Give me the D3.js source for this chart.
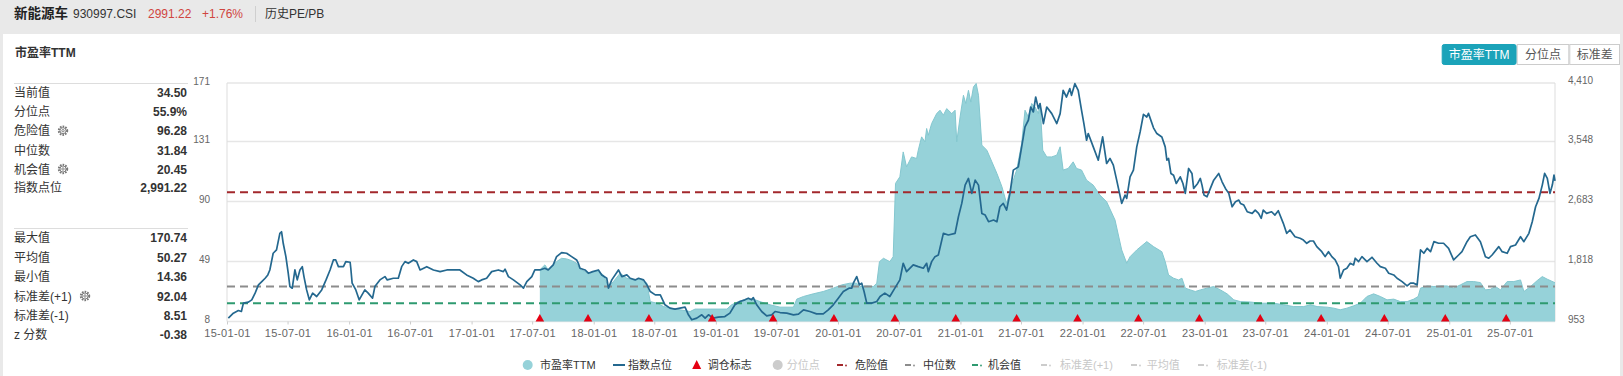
<!DOCTYPE html>
<html><head><meta charset="utf-8">
<script src="https://cdn.jsdelivr.net/npm/d3@7/dist/d3.min.js"></script>
<style>
body{margin:0;background:#e9e9e9;}
svg{display:block;font-family:"Liberation Sans","Noto Sans CJK SC",sans-serif;}
</style></head><body>
<svg id="c" width="1623" height="376"></svg>
<script>
// ---------------- DATA ----------------
const titleName = "新能源车";
const titleCode = "930997.CSI";
const titlePrice = "2991.22";
const titleChange = "+1.76%";
const titleTab = "历史PE/PB";
const sectionTitle = "市盈率TTM";
const buttonLabels = ["市盈率TTM", "分位点", "标准差"];

const statLabels1 = ["当前值", "分位点", "危险值", "中位数", "机会值", "指数点位"];
const statValues1 = ["34.50", "55.9%", "96.28", "31.84", "20.45", "2,991.22"];
const statLabels2 = ["最大值", "平均值", "最小值", "标准差(+1)", "标准差(-1)", "z 分数"];
const statValues2 = ["170.74", "50.27", "14.36", "92.04", "8.51", "-0.38"];

const refDanger = 96.28;
const refMedian = 31.84;
const refChance = 20.45;

const peTickLabels = [8, 49, 90, 131, 171];
const idxTickLabels = [953, 1818, 2683, 3548, 4410];
const xTickLabels = ["15-01-01","15-07-01","16-01-01","16-07-01","17-01-01","17-07-01","18-01-01","18-07-01","19-01-01","19-07-01","20-01-01","20-07-01","21-01-01","21-07-01","22-01-01","22-07-01","23-01-01","23-07-01","24-01-01","24-07-01","25-01-01","25-07-01"];
const xDomain = ["2015-01-01", "2025-11-13"];

const legendNames = ["市盈率TTM","指数点位","调仓标志","分位点","危险值","中位数","机会值","标准差(+1)","平均值","标准差(-1)"];

const rebalanceDates = ["2017-07-24","2017-12-15","2018-06-15","2018-12-21","2019-06-21","2019-12-20","2020-06-19","2020-12-18","2021-06-18","2021-12-17","2022-06-17","2022-12-16","2023-06-16","2023-12-15","2024-06-21","2024-12-20","2025-06-20"];

const indexSeries = [["2015-01-05",1002],["2015-01-20",1074],["2015-02-04",1112],["2015-02-13",1098],["2015-02-19",1219],["2015-03-06",1234],["2015-03-16",1267],["2015-03-26",1364],["2015-04-05",1484],["2015-04-15",1531],["2015-04-25",1580],["2015-05-03",1628],["2015-05-09",1700],["2015-05-19",1942],["2015-05-29",1990],["2015-06-08",2231],["2015-06-13",2254],["2015-06-18",2087],["2015-06-26",1893],["2015-07-03",1653],["2015-07-08",1459],["2015-07-15",1436],["2015-07-23",1700],["2015-07-30",1556],["2015-08-07",1700],["2015-08-14",1748],["2015-08-19",1604],["2015-08-27",1411],["2015-09-04",1267],["2015-09-14",1364],["2015-09-26",1315],["2015-10-11",1411],["2015-10-24",1556],["2015-11-05",1700],["2015-11-15",1845],["2015-11-22",1845],["2015-11-30",1748],["2015-12-15",1748],["2015-12-22",1821],["2016-01-04",1812],["2016-01-06",1725],["2016-01-10",1508],["2016-01-21",1411],["2016-01-31",1267],["2016-02-17",1411],["2016-02-27",1364],["2016-03-11",1291],["2016-03-18",1459],["2016-04-02",1556],["2016-04-17",1604],["2016-04-24",1556],["2016-05-12",1580],["2016-05-27",1580],["2016-06-06",1748],["2016-06-16",1821],["2016-06-26",1797],["2016-07-11",1845],["2016-07-21",1821],["2016-07-31",1700],["2016-08-20",1748],["2016-09-09",1700],["2016-09-29",1676],["2016-10-19",1700],["2016-11-27",1700],["2016-12-17",1628],["2017-01-06",1580],["2017-01-21",1531],["2017-01-31",1556],["2017-02-15",1580],["2017-03-02",1676],["2017-03-22",1700],["2017-04-06",1676],["2017-04-11",1711],["2017-04-21",1604],["2017-05-06",1556],["2017-05-26",1484],["2017-06-05",1436],["2017-06-15",1531],["2017-06-30",1604],["2017-07-09",1700],["2017-07-24",1700],["2017-08-08",1725],["2017-08-18",1700],["2017-09-02",1773],["2017-09-12",1893],["2017-09-27",1951],["2017-10-12",1942],["2017-10-27",1893],["2017-11-11",1845],["2017-11-16",1797],["2017-11-21",1725],["2017-12-06",1700],["2017-12-16",1653],["2017-12-29",1676],["2018-01-15",1700],["2018-01-25",1628],["2018-02-09",1580],["2018-02-14",1436],["2018-02-24",1556],["2018-03-16",1700],["2018-03-26",1604],["2018-04-10",1628],["2018-04-20",1580],["2018-05-05",1556],["2018-05-15",1580],["2018-05-30",1556],["2018-06-09",1484],["2018-06-19",1387],["2018-07-04",1339],["2018-07-19",1339],["2018-08-02",1195],["2018-08-17",1147],["2018-09-01",1132],["2018-09-16",1147],["2018-10-01",1161],["2018-10-11",1050],["2018-10-21",978],["2018-11-05",1002],["2018-11-20",1050],["2018-11-30",1002],["2018-12-10",1050],["2018-12-24",1002],["2019-01-08",1017],["2019-01-28",1025],["2019-02-12",1074],["2019-02-27",1195],["2019-03-14",1242],["2019-03-29",1267],["2019-04-08",1291],["2019-04-18",1267],["2019-04-23",1300],["2019-05-03",1195],["2019-05-18",1098],["2019-06-02",1035],["2019-06-17",1050],["2019-06-27",1098],["2019-07-12",1083],["2019-08-01",1074],["2019-08-21",1050],["2019-09-05",1060],["2019-09-20",1122],["2019-10-09",1098],["2019-10-29",1064],["2019-11-18",1064],["2019-12-03",1122],["2019-12-18",1195],["2020-01-02",1291],["2020-01-17",1387],["2020-02-03",1436],["2020-02-11",1436],["2020-02-16",1508],["2020-02-26",1604],["2020-03-05",1484],["2020-03-12",1508],["2020-03-19",1387],["2020-03-27",1219],["2020-04-11",1219],["2020-04-26",1242],["2020-05-06",1315],["2020-05-20",1364],["2020-06-04",1315],["2020-06-19",1436],["2020-07-04",1556],["2020-07-14",1797],["2020-07-24",1676],["2020-08-13",1773],["2020-08-28",1748],["2020-09-12",1725],["2020-09-22",1797],["2020-09-27",1676],["2020-10-07",1821],["2020-10-17",1893],["2020-10-27",1917],["2020-11-11",2231],["2020-11-26",2207],["2020-12-16",2231],["2020-12-26",2471],["2021-01-05",2665],["2021-01-15",2930],["2021-01-25",3027],["2021-02-04",2810],["2021-02-14",3002],["2021-02-24",2930],["2021-03-06",2520],["2021-03-16",2496],["2021-03-26",2399],["2021-04-10",2424],["2021-04-20",2399],["2021-04-29",2616],["2021-05-09",2665],["2021-05-19",2568],["2021-05-29",2810],["2021-06-08",3147],["2021-06-23",3194],["2021-07-03",3484],["2021-07-13",3773],["2021-07-23",3870],["2021-07-30",4062],["2021-08-07",3990],["2021-08-14",4207],["2021-08-22",4039],["2021-08-27",4111],["2021-09-06",3822],["2021-09-16",4062],["2021-10-01",3966],["2021-10-16",3822],["2021-10-26",3966],["2021-11-04",4303],["2021-11-14",4207],["2021-11-24",4328],["2021-11-29",4231],["2021-12-09",4400],["2021-12-19",4303],["2021-12-29",4014],["2022-01-05",3822],["2022-01-13",3580],["2022-01-18",3677],["2022-02-02",3484],["2022-02-17",3291],["2022-03-02",3628],["2022-03-14",3243],["2022-03-24",3316],["2022-04-03",3219],["2022-04-13",3002],["2022-04-28",2665],["2022-05-08",2785],["2022-05-13",2737],["2022-05-23",3050],["2022-06-02",3147],["2022-06-12",3484],["2022-06-22",3700],["2022-07-02",3955],["2022-07-12",3917],["2022-07-17",3970],["2022-08-01",3760],["2022-08-11",3677],["2022-08-26",3628],["2022-09-05",3484],["2022-09-10",3291],["2022-09-15",3316],["2022-09-22",3099],["2022-09-30",3074],["2022-10-08",2954],["2022-10-20",3050],["2022-10-28",2954],["2022-11-04",2810],["2022-11-14",3171],["2022-11-24",3099],["2022-11-29",2882],["2022-12-11",2954],["2022-12-19",3027],["2022-12-24",2930],["2022-12-30",2785],["2023-01-08",2761],["2023-01-18",2882],["2023-01-28",3002],["2023-02-12",3099],["2023-02-22",2978],["2023-03-04",2882],["2023-03-14",2810],["2023-03-24",2616],["2023-04-03",2688],["2023-04-13",2713],["2023-04-18",2665],["2023-04-28",2641],["2023-05-08",2544],["2023-05-23",2520],["2023-06-01",2568],["2023-06-11",2520],["2023-06-19",2448],["2023-06-25",2568],["2023-07-05",2520],["2023-07-20",2544],["2023-07-30",2496],["2023-08-09",2558],["2023-08-24",2376],["2023-09-03",2231],["2023-09-13",2279],["2023-09-28",2182],["2023-10-13",2159],["2023-10-23",2134],["2023-11-02",2087],["2023-11-12",2120],["2023-11-22",2120],["2023-12-02",2038],["2023-12-17",1965],["2023-12-27",1893],["2024-01-06",1965],["2024-01-16",1893],["2024-01-26",1845],["2024-02-05",1748],["2024-02-10",1580],["2024-02-20",1700],["2024-03-01",1725],["2024-03-11",1797],["2024-03-21",1773],["2024-03-26",1870],["2024-04-05",1821],["2024-04-15",1893],["2024-04-30",1821],["2024-05-15",1884],["2024-05-30",1797],["2024-06-09",1748],["2024-06-24",1725],["2024-07-04",1653],["2024-07-19",1628],["2024-07-29",1580],["2024-08-13",1531],["2024-08-28",1469],["2024-09-07",1508],["2024-09-17",1508],["2024-09-27",1484],["2024-10-07",1990],["2024-10-17",1942],["2024-10-27",2014],["2024-11-06",1965],["2024-11-16",2110],["2024-11-30",2087],["2024-12-15",2087],["2024-12-30",2014],["2025-01-14",1845],["2025-01-29",1917],["2025-02-08",1965],["2025-02-23",2110],["2025-03-05",2182],["2025-03-20",2207],["2025-04-04",2110],["2025-04-19",1893],["2025-04-29",1870],["2025-05-09",1917],["2025-05-29",2038],["2025-06-08",1965],["2025-06-23",1942],["2025-07-03",2038],["2025-07-18",2062],["2025-08-02",2182],["2025-08-12",2110],["2025-08-27",2231],["2025-09-06",2399],["2025-09-16",2616],["2025-09-26",2737],["2025-10-06",2930],["2025-10-13",3099],["2025-10-21",3027],["2025-10-29",2810],["2025-11-05",2930],["2025-11-10",3074],["2025-11-13",2991]];

const peSeries = [["2017-07-24",43.3],["2017-08-08",46.7],["2017-08-18",43.3],["2017-09-02",46.7],["2017-09-12",48.9],["2017-09-27",51.2],["2017-10-12",50.8],["2017-10-27",49.6],["2017-11-11",47.8],["2017-11-21",43.7],["2017-12-06",42.1],["2017-12-16",40.5],["2017-12-29",42.1],["2018-01-15",42.1],["2018-01-30",39.8],["2018-02-14",31.5],["2018-03-01",35.3],["2018-03-21",41.0],["2018-04-10",37.6],["2018-04-30",36.4],["2018-05-20",36.9],["2018-06-09",34.2],["2018-06-19",21.6],["2018-07-09",20.5],["2018-07-29",18.2],["2018-08-18",17.1],["2018-09-16",16.0],["2018-10-16",14.8],["2018-10-31",16.5],["2018-12-15",16.5],["2019-02-03",16.5],["2019-02-17",19.4],["2019-03-09",21.6],["2019-04-03",23.3],["2019-04-23",23.3],["2019-05-13",21.6],["2019-06-12",19.4],["2019-07-12",17.8],["2019-08-21",17.8],["2019-08-31",23.3],["2019-09-20",25.1],["2019-10-19",26.9],["2019-11-18",28.5],["2019-12-18",30.8],["2020-01-12",33.0],["2020-02-06",34.2],["2020-02-26",34.2],["2020-03-07",31.9],["2020-03-27",32.3],["2020-04-16",31.9],["2020-04-26",34.2],["2020-05-04",48.9],["2020-05-16",51.2],["2020-06-04",48.9],["2020-06-14",52.3],["2020-06-21",102.4],["2020-07-04",106.9],["2020-07-14",123.9],["2020-07-24",113.7],["2020-08-08",120.5],["2020-08-23",119.4],["2020-08-28",125.1],["2020-09-07",134.2],["2020-09-17",130.8],["2020-09-22",139.9],["2020-09-27",135.3],["2020-10-07",143.3],["2020-10-22",150.1],["2020-11-01",152.4],["2020-11-11",149.0],["2020-11-21",153.5],["2020-12-06",150.1],["2020-12-16",152.4],["2020-12-21",130.8],["2020-12-31",147.8],["2021-01-10",162.6],["2021-01-17",157.0],["2021-01-25",166.0],["2021-02-01",158.0],["2021-02-09",168.3],["2021-02-17",170.7],["2021-02-24",162.6],["2021-03-06",128.5],["2021-03-21",125.1],["2021-04-05",117.1],["2021-04-20",109.2],["2021-05-05",100.1],["2021-05-19",88.7],["2021-06-03",101.2],["2021-06-18",111.5],["2021-07-03",129.7],["2021-07-13",152.4],["2021-07-23",147.8],["2021-08-02",157.0],["2021-08-12",154.6],["2021-08-22",150.1],["2021-08-27",157.0],["2021-09-04",125.1],["2021-09-16",120.5],["2021-10-01",120.5],["2021-10-16",121.7],["2021-10-26",127.4],["2021-11-04",111.5],["2021-11-19",112.6],["2021-12-04",117.1],["2021-12-14",112.6],["2021-12-29",111.5],["2022-01-13",104.6],["2022-02-02",101.2],["2022-02-22",94.4],["2022-03-14",89.8],["2022-04-08",77.4],["2022-04-28",56.9],["2022-05-13",47.8],["2022-05-23",52.3],["2022-06-12",56.9],["2022-07-12",62.6],["2022-08-01",59.2],["2022-08-26",55.7],["2022-09-05",48.9],["2022-09-15",39.8],["2022-09-30",37.6],["2022-10-15",36.4],["2022-10-25",37.6],["2022-11-04",30.8],["2022-11-19",29.6],["2022-12-04",28.5],["2022-12-19",29.6],["2023-01-08",30.8],["2023-01-28",31.9],["2023-02-17",29.6],["2023-03-09",26.9],["2023-03-29",22.8],["2023-04-18",21.6],["2023-05-18",21.3],["2023-06-17",20.5],["2023-07-27",20.5],["2023-08-25",19.4],["2023-09-24",18.2],["2023-10-24",18.2],["2023-11-13",19.4],["2023-12-03",18.2],["2024-01-02",17.8],["2024-01-22",17.1],["2024-02-10",16.0],["2024-03-01",17.1],["2024-03-21",18.7],["2024-04-10",20.5],["2024-04-30",25.1],["2024-05-20",26.9],["2024-06-09",25.1],["2024-06-29",22.8],["2024-07-19",23.3],["2024-08-08",21.6],["2024-08-28",21.6],["2024-09-17",23.3],["2024-09-30",25.1],["2024-10-07",30.8],["2024-10-27",32.3],["2024-11-16",31.9],["2024-12-06",32.3],["2024-12-26",32.3],["2025-01-14",30.8],["2025-02-03",33.0],["2025-02-23",35.3],["2025-03-15",35.3],["2025-04-04",34.6],["2025-04-19",29.6],["2025-05-04",30.0],["2025-05-19",31.9],["2025-06-03",29.6],["2025-06-23",35.3],["2025-07-13",35.3],["2025-08-02",36.4],["2025-08-12",28.5],["2025-09-01",31.9],["2025-09-21",36.0],["2025-10-06",38.7],["2025-10-21",36.9],["2025-11-13",34.5]];

// ---------------- DRAW ----------------
const parse = d3.timeParse("%Y-%m-%d");
const parseTick = d3.timeParse("%y-%m-%d");
const svg = d3.select("#c");
const W = 1623, H = 376;
const P = {left: 227, right: 1555, top: 83, bottom: 321.5};

const C = {
  teal: "#96d2d9", tealEdge: "#84c7cf", line: "#24688f",
  danger: "#a3282c", median: "#8c8c8c", chance: "#2e9a70",
  grid: "#e6e6e6", text: "#333", axisText: "#666", tri: "#e50012",
  btn: "#1ba3b9"
};

// panel background
svg.append("rect").attr("x", 0).attr("y", 0).attr("width", W).attr("height", 34).attr("fill", "#e9e9e9");
svg.append("rect").attr("x", 3).attr("y", 34).attr("width", W - 6).attr("height", H - 34).attr("fill", "#fff");

// header
const hdr = svg.append("g");
hdr.append("text").attr("x", 14).attr("y", 18).attr("font-size", 13.5).attr("font-weight", "bold").attr("fill", "#222").text(titleName);
hdr.append("text").attr("x", 73).attr("y", 18).attr("font-size", 12).attr("fill", "#333").text(titleCode);
hdr.append("text").attr("x", 148).attr("y", 18).attr("font-size", 12).attr("fill", "#d0453f").text(titlePrice);
hdr.append("text").attr("x", 202).attr("y", 18).attr("font-size", 12).attr("fill", "#d0453f").text(titleChange);
hdr.append("line").attr("x1", 255.5).attr("x2", 255.5).attr("y1", 6).attr("y2", 22).attr("stroke", "#cfcfcf");
hdr.append("text").attr("x", 265).attr("y", 18).attr("font-size", 12).attr("fill", "#333").text(titleTab);

svg.append("text").attr("x", 15).attr("y", 57).attr("font-size", 12).attr("font-weight", "bold").attr("fill", "#333").text(sectionTitle);

// buttons
const btnX = [1441.7, 1516.7, 1569.3, 1620];
buttonLabels.forEach((b, i) => {
  const x0 = btnX[i], w = btnX[i + 1] - btnX[i];
  svg.append("rect").attr("x", x0 + 0.5).attr("y", 44.5).attr("width", w - 1).attr("height", 20)
    .attr("rx", i === 0 ? 2 : 0)
    .attr("fill", i === 0 ? C.btn : "#fff").attr("stroke", i === 0 ? C.btn : "#ccc");
  svg.append("text").attr("x", x0 + w / 2).attr("y", 58.5).attr("text-anchor", "middle")
    .attr("font-size", 12).attr("fill", i === 0 ? "#fff" : "#555").text(b);
});

// stats panel
function gear(x, y) {
  const g = svg.append("g").attr("transform", `translate(${x},${y})`);
  g.append("circle").attr("r", 4.2).attr("fill", "none").attr("stroke", "#777").attr("stroke-width", 2).attr("stroke-dasharray", "1.6,1.1");
  g.append("circle").attr("r", 3).attr("fill", "none").attr("stroke", "#777").attr("stroke-width", 0.9);
  g.append("circle").attr("r", 1.2).attr("fill", "none").attr("stroke", "#777").attr("stroke-width", 0.9);
}
const rows1Y = [92.7, 111.7, 130.7, 150, 169, 187.7];
const rows2Y = [237.7, 257.3, 276.7, 296, 315, 334];
svg.append("line").attr("x1", 14).attr("x2", 188).attr("y1", 83.5).attr("y2", 83.5).attr("stroke", "#ddd");
svg.append("line").attr("x1", 14).attr("x2", 188).attr("y1", 228.5).attr("y2", 228.5).attr("stroke", "#ddd");
function statRows(labels, values, ys) {
  labels.forEach((l, i) => {
    svg.append("text").attr("x", 14).attr("y", ys[i] + 4.5).attr("font-size", 12).attr("fill", "#333").text(l);
    svg.append("text").attr("x", 187).attr("y", ys[i] + 4.5).attr("font-size", 12).attr("font-weight", "bold")
      .attr("text-anchor", "end").attr("fill", "#333").text(values[i]);
  });
}
statRows(statLabels1, statValues1, rows1Y);
statRows(statLabels2, statValues2, rows2Y);
gear(63, rows1Y[2]); gear(63, rows1Y[4]); gear(85, rows2Y[3]);

// scales
const x = d3.scaleTime().domain(xDomain.map(parse)).range([P.left, P.right]);
const yPE = d3.scaleLinear().domain([peTickLabels[0], peTickLabels[peTickLabels.length - 1]]).range([P.bottom, P.top]);
const yIdx = d3.scaleLinear().domain([idxTickLabels[0], idxTickLabels[idxTickLabels.length - 1]]).range([P.bottom, P.top]);

// grid
const grid = svg.append("g");
peTickLabels.forEach(v => {
  grid.append("line").attr("x1", P.left).attr("x2", P.right).attr("y1", yPE(v)).attr("y2", yPE(v))
    .attr("stroke", C.grid).attr("stroke-width", 1.5);
});
grid.append("line").attr("x1", P.left).attr("x2", P.left).attr("y1", P.top).attr("y2", P.bottom).attr("stroke", "#ddd");
grid.append("line").attr("x1", P.right).attr("x2", P.right).attr("y1", P.top).attr("y2", P.bottom).attr("stroke", "#ddd");

// axes
const axL = svg.append("g").attr("transform", `translate(${P.left - 14},0)`)
  .call(d3.axisLeft(yPE).tickValues(peTickLabels).tickSize(0).tickFormat(d3.format("d")));
axL.select(".domain").remove();
axL.selectAll("text").attr("font-size", 10).attr("fill", C.axisText).attr("font-family", "Liberation Sans").attr("dy", "0.1em");

const axR = svg.append("g").attr("transform", `translate(${P.right + 13},0)`)
  .call(d3.axisRight(yIdx).tickValues(idxTickLabels).tickSize(0).tickFormat(d3.format(",d")));
axR.select(".domain").remove();
axR.selectAll("text").attr("font-size", 10).attr("fill", C.axisText).attr("font-family", "Liberation Sans").attr("dy", "0.05em").attr("x", 0);

const axB = svg.append("g").attr("transform", `translate(0,${P.bottom})`)
  .call(d3.axisBottom(x).tickValues(xTickLabels.map(parseTick)).tickSize(3).tickPadding(5).tickFormat(d3.timeFormat("%y-%m-%d")));
axB.select(".domain").remove();
axB.selectAll("line").attr("stroke", "#ccc");
axB.selectAll("text").attr("font-size", 11).attr("fill", C.axisText).attr("font-family", "Liberation Sans").attr("letter-spacing", "0.3px");

// PE area
const pe = peSeries.map(d => ({date: parse(d[0]), v: d[1]}));
const idx = indexSeries.map(d => ({date: parse(d[0]), v: d[1]}));
svg.append("path").datum(pe)
  .attr("d", d3.area().x(d => x(d.date)).y0(yPE(peTickLabels[0])).y1(d => yPE(d.v)))
  .attr("fill", C.teal);
svg.append("path").datum(pe)
  .attr("d", d3.line().x(d => x(d.date)).y(d => yPE(d.v)))
  .attr("fill", "none").attr("stroke", C.tealEdge).attr("stroke-width", 1);

// reference dashed lines
[[refDanger, C.danger], [refMedian, C.median], [refChance, C.chance]].forEach(([v, col]) => {
  svg.append("line").attr("x1", P.left).attr("x2", P.right).attr("y1", yPE(v)).attr("y2", yPE(v))
    .attr("stroke", col).attr("stroke-width", 2).attr("stroke-dasharray", "8,5");
});

// index line
svg.append("path").datum(idx)
  .attr("d", d3.line().x(d => x(d.date)).y(d => yIdx(d.v)))
  .attr("fill", "none").attr("stroke", C.line).attr("stroke-width", 1.7).attr("stroke-linejoin", "round");

// rebalance markers
svg.append("g").selectAll("path").data(rebalanceDates.map(parse)).join("path")
  .attr("d", d => { const cx = x(d), b = P.bottom; return `M${cx - 4.3},${b} L${cx + 4.3},${b} L${cx},${b - 7.5} Z`; })
  .attr("fill", C.tri);

// legend
const LY = 365;
const lg = svg.append("g").attr("font-size", 11);
const legendLayout = [
  {type: "circle", ix: 527.7, tx: 540, col: C.teal, on: true},
  {type: "line", ix: 619, tx: 628, col: C.line, on: true},
  {type: "tri", ix: 696.7, tx: 707.7, col: C.tri, on: true},
  {type: "circle", ix: 777.7, tx: 786.7, col: "#ccc", on: false},
  {type: "dash", ix: 840, tx: 855, col: C.danger, on: true},
  {type: "dash", ix: 908, tx: 923, col: C.median, on: true},
  {type: "dash", ix: 975, tx: 988, col: C.chance, on: true},
  {type: "dash", ix: 1044, tx: 1060, col: "#ccc", on: false},
  {type: "dash", ix: 1134, tx: 1146.7, col: "#ccc", on: false},
  {type: "dash", ix: 1201, tx: 1216.7, col: "#ccc", on: false}
];
legendNames.forEach((n, i) => {
  const L = legendLayout[i];
  if (L.type === "circle") lg.append("circle").attr("cx", L.ix).attr("cy", LY).attr("r", 5).attr("fill", L.col);
  if (L.type === "line") lg.append("rect").attr("x", L.ix - 6).attr("y", LY - 1).attr("width", 12).attr("height", 2).attr("fill", L.col);
  if (L.type === "tri") lg.append("path").attr("d", `M${L.ix - 4.5},${LY + 4} L${L.ix + 4.5},${LY + 4} L${L.ix},${LY - 5} Z`).attr("fill", L.col);
  if (L.type === "dash") {
    lg.append("rect").attr("x", L.ix - 3).attr("y", LY - 1).attr("width", 6).attr("height", 2).attr("fill", L.col);
    lg.append("circle").attr("cx", L.ix + 6).attr("cy", LY + 0.5).attr("r", 0.9).attr("fill", L.col);
  }
  lg.append("text").attr("x", L.tx).attr("y", LY + 4).attr("fill", L.on ? "#333" : "#c8c8c8").text(n);
});
</script>
</body></html>
